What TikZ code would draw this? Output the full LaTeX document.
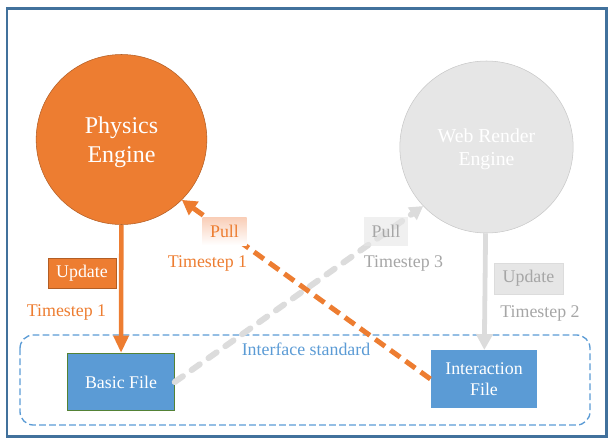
\documentclass[tikz,border=0pt]{standalone}
\usepackage{fontspec}
\setmainfont{Liberation Serif}
\usetikzlibrary{shapes.geometric,arrows.meta}
\definecolor{physorange}{HTML}{ED7D31}
\definecolor{physedge}{HTML}{B25E25}
\definecolor{fileblue}{HTML}{5B9BD5}
\definecolor{frameblue}{HTML}{41719C}
\definecolor{filegreen}{HTML}{548235}
\definecolor{webgray}{HTML}{E6E6E6}
\definecolor{webedge}{HTML}{C8C8C8}
\definecolor{linkgray}{HTML}{DCDCDC}
\definecolor{fadetext}{HTML}{A6A6A6}
\definecolor{pullpink}{HTML}{F9CDB6}
\begin{document}
\begin{tikzpicture}[x=0.75pt, y=-0.75pt,
  engine node/.style={ellipse, inner sep=0pt, align=center, text=white, text depth=0pt},
  file node/.style={rectangle, fill=fileblue, text=white, inner sep=0pt, align=center, text depth=0pt,
    minimum width=80pt, minimum height=43pt, font=\fontsize{13.4}{16}\selectfont},
  tag node/.style={rectangle, inner sep=0pt, font=\fontsize{13.4}{16}\selectfont},
  time label/.style={inner sep=0pt, font=\fontsize{13.4}{16}\selectfont}]
  \useasboundingbox (0,0) rectangle (613,443);

  % frame and interface area
  \draw[frameblue, line width=1.9pt] (7,8.5) rectangle (606.5,436.5);
  \draw[fileblue, line width=1pt, dash pattern=on 5pt off 2.5pt, rounded corners=10pt]
    (20,335) rectangle (590,425);
  \node[time label, text=fileblue] (iface) at (306,349) {Interface standard};

  % engines and files
  \node[engine node, fill=physorange, draw=physedge, minimum width=128pt, minimum height=127.5pt,
    font=\fontsize{18}{21.75}\selectfont] (phys) at (121.5,139.5) {Physics\\Engine};
  \node[engine node, fill=webgray, draw=webedge, minimum width=130pt, minimum height=129pt,
    font=\fontsize{14.8}{17.25}\selectfont] (web) at (486.5,147) {Web Render\\Engine};
  \node[file node, draw=filegreen, line width=0.6pt] (basic) at (121,382) {Basic File};
  \node[file node] (inter) at (484,379) {Interaction\\File};

  % connectors
  \draw[physorange, line width=3.4pt, -{Triangle[length=13pt,width=11pt]}] (phys) -- (basic);
  \draw[linkgray, line width=3.6pt, -{Triangle[length=12pt,width=12pt]}] (web) -- (inter);
  \draw[linkgray, line width=4.5pt, line cap=round, dash pattern=on 7.5pt off 8pt,
    -{Triangle[length=10pt,width=11pt]}] (basic.east) -- (web.223);
  \draw[physorange, line width=3.75pt, dash pattern=on 9pt off 5pt,
    -{Triangle[length=11pt,width=12pt]}] (inter.west) -- (phys.-45);

  % labels
  \node[tag node, fill=physorange, draw=physedge, text=white, minimum width=51pt, minimum height=22.5pt]
    (upphys) at (82,273) {Update};
  \node[time label, text=physorange] (tsphys) at (66.5,312) {Timestep 1};
  \node[tag node, top color=pullpink, bottom color=white, text=physorange, minimum width=33pt,
    minimum height=21pt] (pullphys) at (224.5,231) {Pull};
  \node[time label, text=physorange] (tspull) at (207.5,263) {Timestep 1};
  \node[tag node, fill=webgray, fill opacity=0.6, text opacity=1, text=fadetext, minimum width=33pt,
    minimum height=22pt] (pullweb) at (386,231.5) {Pull};
  \node[time label, text=fadetext] (tspullweb) at (403.5,263) {Timestep 3};
  \node[tag node, fill=webgray, draw=linkgray, text=fadetext, minimum width=52pt, minimum height=23pt]
    (upweb) at (528.5,278.5) {Update};
  \node[time label, text=fadetext] (tsweb) at (540,313) {Timestep 2};
\end{tikzpicture}
\end{document}
